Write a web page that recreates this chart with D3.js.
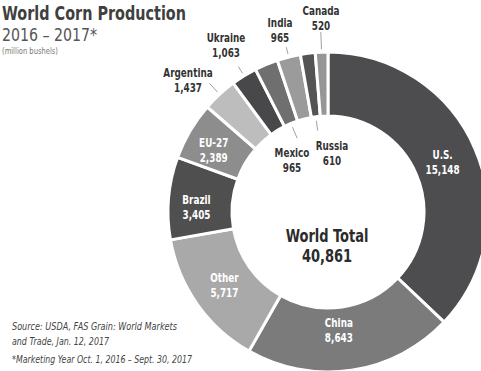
<!DOCTYPE html>
<html lang="en">
  <head>
    <meta charset="utf-8">
    <title>World Corn Production</title>
    <script src="https://cdn.jsdelivr.net/npm/d3@7"></script>
    <style>
      body { margin: 0; background: #fff; }
      text { font-family: "DejaVu Sans Condensed", "DejaVu Sans", sans-serif; }
    </style>
  </head>
  <body>
    <script type="text/javascript">
      var w = 481;
      var h = 371;

      // data, clockwise from 12 o'clock
      var countries = ["U.S.", "China", "Other", "Brazil", "EU-27", "Argentina", "Ukraine", "Mexico", "India", "Russia", "Canada"];
      var production = [15148, 8643, 5717, 3405, 2389, 1437, 1063, 965, 965, 610, 520];
      var shades = ["#4d4d4f", "#7b7b7c", "#a9a9a9", "#4f4f50", "#8d8d8d", "#bdbdbd", "#48484a", "#6f6f70", "#9b9b9b", "#545455", "#969696"];
      var worldTotal = 40861;

      var cx = 328, cy = 212;
      var rOuter = 160, rInner = 96;

      var svg = d3.select("body")
        .append("svg")
        .attr("width", w)
        .attr("height", h);

      var dataset = countries.map(function(c, i) {
        return {name: c, value: production[i], color: shades[i]};
      });

      var pie = d3.pie()
        .value(function(d) { return d.value; })
        .sort(null);

      var arc = d3.arc()
        .innerRadius(rInner)
        .outerRadius(rOuter);

      var arcs = pie(dataset);
      var fmt = d3.format(",");

      var ring = svg.append("g")
        .attr("transform", "translate(" + cx + "," + cy + ")");

      ring.selectAll("path")
        .data(arcs)
        .enter()
        .append("path")
        .attr("d", arc)
        .attr("fill", function(d) { return d.data.color; })
        .attr("stroke", "#fff")
        .attr("stroke-width", 3);

      // where each label goes: inside the ring (white), outside, or in the hole
      var labelStyle = {
        "U.S.":      {where: "ring", dx: -3, dy: -2},
        "China":     {where: "ring", dx: -8, dy: -12},
        "Other":     {where: "ring", dx: 1, dy: -4},
        "Brazil":    {where: "ring", dx: -4, dy: 3},
        "EU-27":     {where: "ring", dx: -4, dy: 0},
        "Argentina": {where: "out", len: 12, lx: 188, ly: 77},
        "Ukraine":   {where: "out", len: 8, lx: 226, ly: 42},
        "India":     {where: "out", len: 7, lx: 280, ly: 27},
        "Canada":    {where: "out", len: 17, lx: 321, ly: 15},
        "Mexico":    {where: "in", len: 12, lx: 292, ly: 157},
        "Russia":    {where: "in", len: 10, lx: 332, ly: 150}
      };

      function polar(r, a) {
        return [cx + r * Math.sin(a), cy - r * Math.cos(a)];
      }

      arcs.forEach(function(d) {
        var s = labelStyle[d.data.name];
        var mid = (d.startAngle + d.endAngle) / 2;
        var x, y, fill;
        if (s.where == "ring") {
          var c = arc.centroid(d);
          x = cx + c[0] + s.dx;
          y = cy + c[1] + s.dy;
          fill = "#fff";
        } else {
          var r0 = s.where == "out" ? rOuter + 3 : rInner - 4;
          var r1 = s.where == "out" ? r0 + s.len : r0 - s.len;
          var p0 = polar(r0, mid), p1 = polar(r1, mid);
          svg.append("line")
            .attr("x1", p0[0]).attr("y1", p0[1])
            .attr("x2", p1[0]).attr("y2", p1[1])
            .attr("stroke", "#888")
            .attr("stroke-width", 0.8);
          x = s.lx;
          y = s.ly;
          fill = "#333";
        }
        var t = svg.append("text")
          .attr("text-anchor", "middle")
          .attr("font-size", 12)
          .attr("font-weight", "bold")
          .attr("fill", fill)
          .attr("transform", "translate(" + x + "," + y + ") scale(0.82,1)");
        t.append("tspan").attr("x", 0).attr("y", 0).text(d.data.name);
        t.append("tspan").attr("x", 0).attr("y", 15).text(fmt(d.data.value));
      });

      // centre total
      var tot = svg.append("text")
        .attr("text-anchor", "middle")
        .attr("font-size", 17)
        .attr("font-weight", "bold")
        .attr("fill", "#2b2b2b")
        .attr("transform", "translate(" + (cx - 1) + ",242) scale(0.85,1)");
      tot.append("tspan").attr("x", 0).attr("y", 0).text("World Total");
      tot.append("tspan").attr("x", 0).attr("y", 20).text(fmt(worldTotal));

      // titles
      svg.append("text")
        .attr("x", 2).attr("y", 20)
        .attr("font-size", 20)
        .attr("font-weight", "bold")
        .attr("fill", "#3f3f3f")
        .attr("textLength", 184)
        .attr("lengthAdjust", "spacingAndGlyphs")
        .text("World Corn Production");
      svg.append("text")
        .attr("x", 2).attr("y", 41)
        .attr("font-size", 17)
        .attr("fill", "#555")
        .attr("textLength", 95)
        .attr("lengthAdjust", "spacingAndGlyphs")
        .text("2016 \u2013 2017*");
      svg.append("text")
        .attr("x", 2).attr("y", 54)
        .attr("font-size", 8)
        .attr("fill", "#777")
        .attr("textLength", 56)
        .attr("lengthAdjust", "spacingAndGlyphs")
        .text("(million bushels)");

      // notes
      var notes = [
        ["Source: USDA, FAS Grain: World Markets", 330, 165],
        ["and Trade, Jan. 12, 2017", 345, 97],
        ["*Marketing Year Oct. 1, 2016 \u2013 Sept. 30, 2017", 363, 180]
      ];
      notes.forEach(function(n) {
        svg.append("text")
          .attr("x", 12).attr("y", n[1])
          .attr("font-size", 10)
          .attr("font-style", "italic")
          .attr("fill", "#444")
          .attr("textLength", n[2])
          .attr("lengthAdjust", "spacingAndGlyphs")
          .text(n[0]);
      });
    </script>
  </body>
</html>
